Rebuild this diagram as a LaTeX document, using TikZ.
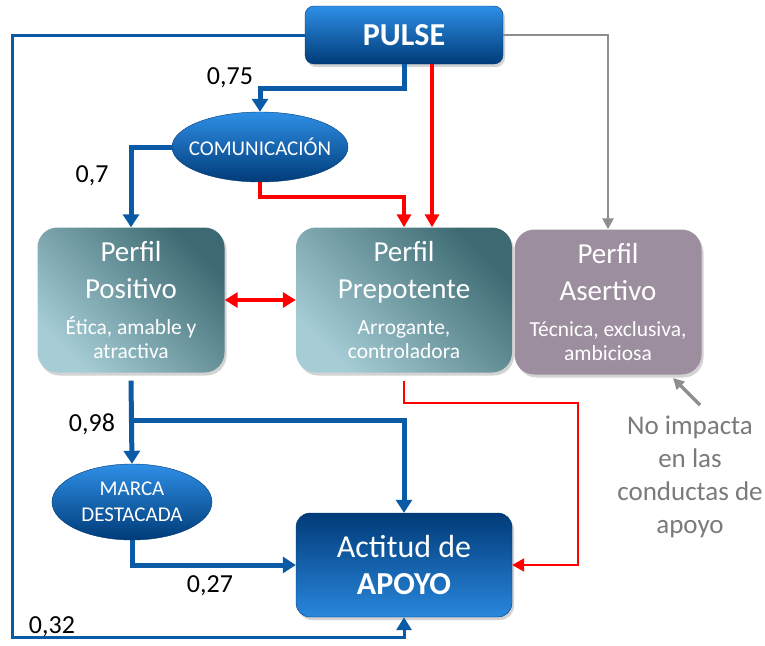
\documentclass[tikz,border=0pt]{standalone}
\usepackage{fontspec}
\setmainfont{Carlito}
\usetikzlibrary{arrows.meta,shapes.geometric,shadows}

\definecolor{azul}{HTML}{0B5AA6}
\definecolor{azulclaro}{HTML}{2E8FE6}
\definecolor{azuloscuro}{HTML}{003B78}
\definecolor{rojo}{HTML}{FF0000}
\definecolor{gris}{HTML}{8E8E8E}
\definecolor{grisnota}{HTML}{7A7A7A}
\definecolor{tealoscuro}{HTML}{3D6A72}
\definecolor{tealmedio}{HTML}{5CA0AA}
\definecolor{tealclaro}{HTML}{A6CDD5}
\definecolor{lila}{HTML}{9D8E9F}

\newcommand{\titulo}{\fontsize{29}{37}\selectfont}
\newcommand{\subtit}{\fontsize{21.5}{27}\selectfont}

\tikzset{
    sombra/.style={drop shadow={shadow xshift=2pt,shadow yshift=-3pt,opacity=0.35}},
    pulsebox/.style={draw=azuloscuro, rounded corners=9pt, top color=azulclaro, bottom color=azuloscuro,
        minimum width=198pt, minimum height=58pt, text=white, font=\fontsize{32}{36}\selectfont\bfseries, sombra},
    elipse/.style={ellipse, draw=azuloscuro, top color=azulclaro, bottom color=azuloscuro, inner sep=0pt,
        text=white, align=center},
    perfil/.style={rounded corners=20pt, shading=axis, top color=tealoscuro, middle color=tealmedio,
        bottom color=tealclaro, shading angle=-45, minimum height=145pt, text=white, align=center,
        font=\titulo, sombra},
    asertbox/.style={rounded corners=20pt, fill=lila, minimum width=187pt, minimum height=145pt,
        text=white, align=center, font=\titulo, sombra},
    apoyobox/.style={draw=azuloscuro, rounded corners=14pt, top color=azuloscuro, middle color=azul!90!black,
        bottom color=azulclaro!85!azul, minimum width=216pt, minimum height=104pt, text=white, align=center,
        font=\fontsize{32}{37}\selectfont, sombra},
    valor/.style={font=\fontsize{26}{30}\selectfont},
    flujo/.style={draw=azul, line width=5pt, -{Triangle[width=16pt,length=13pt]}},
    lazo/.style={draw=azul, line width=3pt, -{Triangle[width=15pt,length=13pt]}},
    rojogrueso/.style={draw=rojo, line width=4pt, -{Triangle[width=14pt,length=13pt]}},
    rojodoble/.style={draw=rojo, line width=4pt, {Triangle[width=15pt,length=13pt]}-{Triangle[width=15pt,length=13pt]}},
    rojofino/.style={draw=rojo, line width=2pt, -{Triangle[width=13pt,length=12pt]}},
    grisfino/.style={draw=gris, line width=2.5pt, -{Triangle[width=11pt,length=11pt]}},
}

\begin{document}
\begin{tikzpicture}[x=1pt,y=-1pt]
    \useasboundingbox (0,0) rectangle (765,645);

    % nodos
    \node[pulsebox] (pulse) at (404,35) {PULSE};
    \node[elipse, minimum width=176pt, minimum height=70pt, inner xsep=-13pt, font=\fontsize{21}{24}\selectfont] (comu) at (260,147) {COMUNICACIÓN};
    \node[perfil, minimum width=187pt] (pos) at (131,300)
        {\titulo Perfil\\\titulo Positivo\\[-1pt]\subtit Ética, amable y\\[-13pt]\subtit atractiva};
    \node[perfil, minimum width=216pt] (prep) at (404,300)
        {\titulo Perfil\\\titulo Prepotente\\[-1pt]\subtit Arrogante,\\[-13pt]\subtit controladora};
    \node[asertbox] (asert) at (608,302)
        {\titulo Perfil\\\titulo Asertivo\\[-1pt]\subtit Técnica, exclusiva,\\[-13pt]\subtit ambiciosa};
    \node[elipse, minimum width=160pt, minimum height=76pt, font=\fontsize{21}{26}\selectfont] (marca) at (132,502) {MARCA\\DESTACADA};
    \node[apoyobox] (apoyo) at (404,565) {Actitud de\\\bfseries APOYO};
    \node[align=center, text=grisnota, font=\fontsize{27}{33}\selectfont] (nota) at (690,477)
        {No impacta\\en las\\conductas de\\apoyo};

    \coordinate (rama) at (131,420);
    \coordinate (notaarriba) at (700,405);
    \coordinate (esquina) at (673,378);

    % conexiones desde PULSE
    \draw[lazo] (pulse.west) -| (12,637) -| (apoyo.south);
    \draw[grisfino] (pulse.east) -| (asert.north);
    \draw[flujo] (pulse.south) -- ++(0,24) -| (comu.north);
    \draw[rojogrueso] ([xshift=28pt]pulse.south) -- ([xshift=28pt]prep.north);

    % conexiones desde COMUNICACION
    \draw[flujo] (comu.west) -| (pos.north);
    \draw[rojogrueso] (comu.south) -- ++(0,15) -| (prep.north);

    % entre perfiles
    \draw[rojodoble] (pos.east) -- (prep.west);

    % hacia APOYO
    \draw[flujo] ([yshift=-8pt]pos.south) -- (marca.north);
    \draw[flujo] (rama) -| (apoyo.north);
    \draw[flujo] (marca.south) |- (apoyo.west);
    \draw[rojofino] ([yshift=-8pt]prep.south) |- (578,403) |- (apoyo.east);
    \draw[grisfino, line width=3.5pt] (notaarriba) -- (esquina);

    % valores
    \node[valor] (v1) at (230,78) {0,75};
    \node[valor] (v2) at (92,176) {0,7};
    \node[valor] (v3) at (92,424) {0,98};
    \node[valor] (v4) at (210,586) {0,27};
    \node[valor] (v5) at (52,627) {0,32};

\end{tikzpicture}
\end{document}
